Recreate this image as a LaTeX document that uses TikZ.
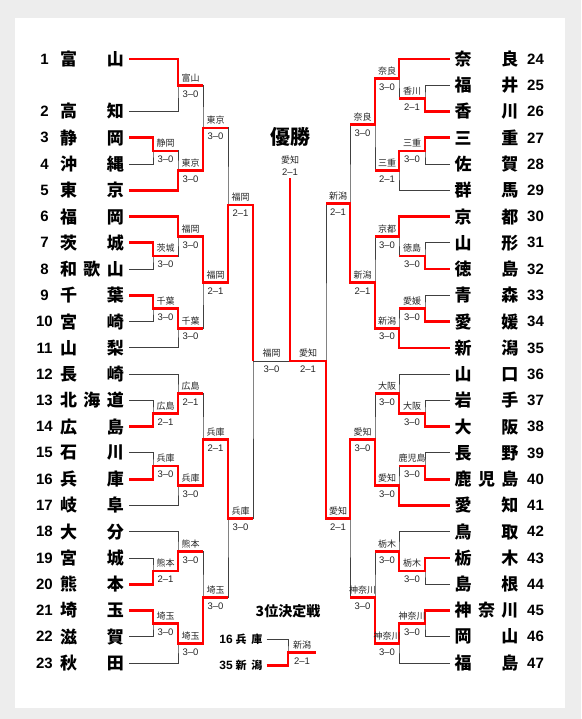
\documentclass[tikz,border=0pt]{standalone}
\usepackage{fontspec}
\setmainfont{Liberation Sans}
\newfontfamily\jp{Noto Sans CJK JP}
\definecolor{winred}{HTML}{FF0000}
\definecolor{linegray}{HTML}{404040}
\definecolor{bggray}{HTML}{EDEDED}

\begin{document}
\begin{tikzpicture}[x=1pt, y=-26.26pt,
    team/.style={font=\jp\bfseries\fontsize{17}{17}\selectfont,
                 text width=64pt, inner sep=0pt, outer xsep=5pt},
    steam/.style={font=\jp\bfseries\fontsize{11}{11}\selectfont,
                  text width=27pt, inner sep=0pt, outer xsep=4pt},
    num/.style={font=\bfseries\fontsize{15}{15}\selectfont, inner sep=0pt},
    snum/.style={font=\bfseries\fontsize{12}{12}\selectfont, inner sep=0pt},
    wname/.style={font=\jp\fontsize{9}{9}\selectfont, inner sep=0pt, text=black!85},
    score/.style={font=\fontsize{9.5}{9.5}\selectfont, inner sep=0pt, text=black!85},
    bline/.style={draw=linegray, line width=0.9pt},
    win/.style={draw=winred, line width=2.7pt}
  ]
  \useasboundingbox (0,-2.2468) rectangle (581,25.133);
  \fill[bggray] (0,-2.2468) rectangle (581,25.133);
  \fill[white] (15,-1.5613) rectangle (565,24.714);

  \foreach \r/\n/\name in {0/1/富\hfill 山, 2/2/高\hfill 知, 3/3/静\hfill 岡,
      4/4/沖\hfill 縄, 5/5/東\hfill 京, 6/6/福\hfill 岡, 7/7/茨\hfill 城,
      8/8/和\hfill 歌\hfill 山, 9/9/千\hfill 葉, 10/10/宮\hfill 崎,
      11/11/山\hfill 梨, 12/12/長\hfill 崎, 13/13/北\hfill 海\hfill 道,
      14/14/広\hfill 島, 15/15/石\hfill 川, 16/16/兵\hfill 庫, 17/17/岐\hfill 阜,
      18/18/大\hfill 分, 19/19/宮\hfill 城, 20/20/熊\hfill 本, 21/21/埼\hfill 玉,
      22/22/滋\hfill 賀, 23/23/秋\hfill 田}
  {
    \node[num] (n\n) at (44.5,\r) {\n};
    \node[team] (t\n) at (92,\r) {\name};
  }
  \foreach \r/\n/\name in {0/24/奈\hfill 良, 1/25/福\hfill 井, 2/26/香\hfill 川,
      3/27/三\hfill 重, 4/28/佐\hfill 賀, 5/29/群\hfill 馬, 6/30/京\hfill 都,
      7/31/山\hfill 形, 8/32/徳\hfill 島, 9/33/青\hfill 森, 10/34/愛\hfill 媛,
      11/35/新\hfill 潟, 12/36/山\hfill 口, 13/37/岩\hfill 手, 14/38/大\hfill 阪,
      15/39/長\hfill 野, 16/40/鹿\hfill 児\hfill 島, 17/41/愛\hfill 知,
      18/42/鳥\hfill 取, 19/43/栃\hfill 木, 20/44/島\hfill 根,
      21/45/神\hfill 奈\hfill 川, 22/46/岡\hfill 山, 23/47/福\hfill 島}
  {
    \node[team] (t\n) at (486.5,\r) {\name};
    \node[num, anchor=west] (n\n) at (527,\r) {\n};
  }

  \foreach \m/\x/\r in {l1a/153/3.5, l1b/153/7.5, l1c/153/9.5, l1d/153/13.5,
      l1e/153/15.5, l1f/153/19.5, l1g/153/21.5,
      l2a/178/1, l2b/178/4.25, l2c/178/6.75, l2d/178/10.25, l2e/178/12.75,
      l2f/178/16.25, l2g/178/18.75, l2h/178/22.25,
      l3a/203/2.625, l3b/203/8.5, l3c/203/14.5, l3d/203/20.5,
      l4a/228/5.5625, l4b/228/17.5, l5/253/11.5,
      r1a/425/1.5, r1b/425/3.5, r1c/425/7.5, r1d/425/9.5, r1e/425/13.5,
      r1f/425/15.5, r1g/425/19.5, r1h/425/21.5,
      r2a/399/0.75, r2b/399/4.25, r2c/399/6.75, r2d/399/10.25, r2e/399/12.75,
      r2f/399/16.25, r2g/399/18.75, r2h/399/22.25,
      r3a/375/2.5, r3b/375/8.5, r3c/375/14.5, r3d/375/20.5,
      r4a/350/5.5, r4b/350/17.5, r5/326/11.5, champ/290/4.53}
    \coordinate (\m) at (\x,\r);

  \foreach \a/\m/\b in {t3/l1a/t4, t7/l1b/t8, t9/l1c/t10, t13/l1d/t14,
      t15/l1e/t16, t19/l1f/t20, t21/l1g/t22,
      t1/l2a/t2, l1a/l2b/t5, t6/l2c/l1b, l1c/l2d/t11, t12/l2e/l1d,
      l1e/l2f/t17, t18/l2g/l1f, l1g/l2h/t23,
      l2a/l3a/l2b, l2c/l3b/l2d, l2e/l3c/l2f, l2g/l3d/l2h,
      l3a/l4a/l3b, l3c/l4b/l3d, l4a/l5/l4b,
      t25/r1a/t26, t27/r1b/t28, t31/r1c/t32, t33/r1d/t34, t37/r1e/t38,
      t39/r1f/t40, t43/r1g/t44, t45/r1h/t46,
      t24/r2a/r1a, r1b/r2b/t29, t30/r2c/r1c, r1d/r2d/t35, t36/r2e/r1e,
      r1f/r2f/t41, t42/r2g/r1g, r1h/r2h/t47,
      r2a/r3a/r2b, r2c/r3b/r2d, r2e/r3c/r2f, r2g/r3d/r2h,
      r3a/r4a/r3b, r3c/r4b/r3d, r4a/r5/r4b}
    \draw[bline] (\a) -| (\m) |- (\b);
  \draw[bline] (l5) -- (r5);

  \draw[win] (t1) -| (l2a) -- (l2a -| l3a);
  \draw[win] (t3) -| (l1a) -- (l1a -| l2b);
  \draw[win] (t5) -| (l2b) -| (l3a) -- (l3a -| l4a);
  \draw[win] (t6) -| (l2c) -| (l3b) -| (l4a) -| (l5);
  \draw[win] (t7) -| (l1b) -- (l1b -| l2c);
  \draw[win] (t9) -| (l1c) -| (l2d) -- (l2d -| l3b);
  \draw[win] (t14) -| (l1d) -| (l2e) -- (l2e -| l3c);
  \draw[win] (t16) -| (l1e) -| (l2f) -| (l3c) -| (l4b) -- (l4b -| l5);
  \draw[win] (t20) -| (l1f) -| (l2g) -- (l2g -| l3d);
  \draw[win] (t21) -| (l1g) -| (l2h) -| (l3d) -- (l3d -| l4b);

  \draw[win] (t24) -| (r2a) -| (r3a) -- (r3a -| r4a);
  \draw[win] (t26) -| (r1a) -- (r1a -| r2a);
  \draw[win] (t27) -| (r1b) -| (r2b) -- (r2b -| r3a);
  \draw[win] (t30) -| (r2c) -- (r2c -| r3b);
  \draw[win] (t32) -| (r1c) -- (r1c -| r2c);
  \draw[win] (t34) -| (r1d) -- (r1d -| r2d);
  \draw[win] (t35) -| (r2d) -| (r3b) -| (r4a) -- (r4a -| r5);
  \draw[win] (t38) -| (r1e) -| (r2e) -- (r2e -| r3c);
  \draw[win] (t40) -| (r1f) -- (r1f -| r2f);
  \draw[win] (t41) -| (r2f) -| (r3c) -| (r4b) -| (r5) -| (champ);
  \draw[win] (t43) -| (r1g) -| (r2g) -- (r2g -| r3d);
  \draw[win] (t45) -| (r1h) -| (r2h) -| (r3d) -- (r3d -| r4b);

  \foreach \m/\dx/\w/\s in {l1a/12.5/静岡/3--0, l1b/12.5/茨城/3--0,
      l1c/12.5/千葉/3--0, l1d/12.5/広島/2--1, l1e/12.5/兵庫/3--0,
      l1f/12.5/熊本/2--1, l1g/12.5/埼玉/3--0,
      l2a/12.5/富山/3--0, l2b/12.5/東京/3--0, l2c/12.5/福岡/3--0,
      l2d/12.5/千葉/3--0, l2e/12.5/広島/2--1, l2f/12.5/兵庫/3--0,
      l2g/12.5/熊本/3--0, l2h/12.5/埼玉/3--0,
      l3a/12.5/東京/3--0, l3b/12.5/福岡/2--1, l3c/12.5/兵庫/2--1,
      l3d/12.5/埼玉/3--0, l4a/12.5/福岡/2--1, l4b/12.5/兵庫/3--0,
      l5/18.5/福岡/3--0,
      r1a/-13/香川/2--1, r1b/-13/三重/3--0, r1c/-13/徳島/3--0,
      r1d/-13/愛媛/3--0, r1e/-13/大阪/3--0, r1f/-13/鹿児島/3--0,
      r1g/-13/栃木/3--0, r1h/-13/神奈川/3--0,
      r2a/-12/奈良/3--0, r2b/-12/三重/2--1, r2c/-12/京都/3--0,
      r2d/-12/新潟/3--0, r2e/-12/大阪/3--0, r2f/-12/愛知/3--0,
      r2g/-12/栃木/3--0, r2h/-12/神奈川/3--0,
      r3a/-12.5/奈良/3--0, r3b/-12.5/新潟/2--1, r3c/-12.5/愛知/3--0,
      r3d/-12.5/神奈川/3--0, r4a/-12/新潟/2--1, r4b/-12/愛知/2--1,
      r5/-18/愛知/2--1}
    \path ([xshift=\dx pt]\m) node[wname, yshift=7.5pt] (w\m) {\w}
                              node[score, yshift=-8.5pt] (k\m) {\s};

  \node[font=\jp\bfseries\fontsize{20}{20}\selectfont] (yusho) at (290,2.97) {優勝};
  \node[wname] (wchamp) at (290,3.85) {愛知};
  \node[score] (kchamp) at (290,4.3) {2--1};

  \node[font=\jp\bfseries\fontsize{14}{14}\selectfont] (third) at (288,21.02) {3位決定戦};
  \node[snum, anchor=east] (n16b) at (233,22.1) {16};
  \node[steam] (p16) at (249,22.1) {兵\hfill 庫};
  \node[snum, anchor=east] (n35b) at (233,23.1) {35};
  \node[steam] (p35) at (249,23.1) {新\hfill 潟};
  \coordinate (p3) at (288,22.6);
  \coordinate (p3end) at (316,22.6);
  \draw[bline] (p16) -| (p3) |- (p35);
  \draw[win] (p35) -| (p3) -- (p3end);
  \path ([xshift=14pt]p3) node[wname, yshift=7.5pt] (wp3) {新潟}
                          node[score, yshift=-8.5pt] (kp3) {2--1};
\end{tikzpicture}
\end{document}
